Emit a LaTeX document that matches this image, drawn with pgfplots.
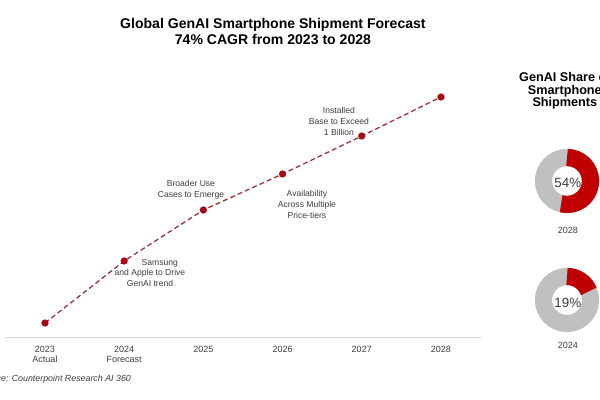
\documentclass[border=0pt]{standalone}
\usepackage{fontspec}
\setmainfont{Liberation Sans}
\usepackage{pgfplots}
\pgfplotsset{compat=1.18}

\definecolor{cpRed}{RGB}{192,0,0}
\definecolor{cpDot}{RGB}{165,10,20}
\definecolor{cpLine}{RGB}{150,50,50}
\definecolor{cpGray}{RGB}{192,192,192}
\definecolor{cpText}{RGB}{60,60,60}

% shipments (arbitrary units, axis hidden)
\pgfplotstableread{
year value
2023 15
2024 77
2025 128
2026 164
2027 202
2028 241
}\shipments

\begin{document}
\begin{tikzpicture}
\useasboundingbox (0,0) rectangle (15cm,10cm);
\clip (0,0) rectangle (15cm,10cm);

% main line chart
\begin{axis}[
  at={(0.135cm,1.55cm)}, anchor=south west,
  scale only axis, width=11.88cm, height=7.5cm,
  xmin=2022.5, xmax=2028.5, ymin=0, ymax=300,
  axis x line*=bottom, axis y line=none,
  x axis line style={black!15, line width=0.7pt},
  xtick={2023,...,2028},
  xticklabels={{2023\\Actual},{2024\\Forecast},2025,2026,2027,2028},
  major tick length=0pt,
  xticklabel style={align=center, text=cpText, font=\fontsize{6.4}{7.1}\selectfont, yshift=-2pt},
  ytick=\empty,
  clip=false,
]
\addplot[cpLine, line width=0.9pt, dash pattern=on 3.5pt off 2.2pt,
  mark=*, mark size=2.1pt, mark options={solid, fill=cpDot, draw=cpDot}]
  table[x=year, y=value] {\shipments};
\end{axis}

% donut panel, axis units are picture pixels
\begin{axis}[
  at={(0,0)}, anchor=south west,
  scale only axis, width=15cm, height=10cm,
  xmin=0, xmax=600, ymin=0, ymax=400,
  hide axis, clip=false,
]
\draw[cpGray, line width=0.43cm] (axis cs:567,219) circle[radius=0.5875cm];
\draw[cpRed, line width=0.43cm] (axis cs:567,219) ++(90:0.5875cm)
  arc[start angle=90, end angle={90-3.6*54}, radius=0.5875cm];
\draw[cpGray, line width=0.43cm] (axis cs:567,100) circle[radius=0.5875cm];
\draw[cpRed, line width=0.43cm] (axis cs:567,100) ++(90:0.5875cm)
  arc[start angle=90, end angle={90-3.6*19}, radius=0.5875cm];
\end{axis}

\begin{scope}[x=0.025cm,y=0.025cm]
% titles
\node[align=center, font=\fontsize{10}{11.4}\selectfont\bfseries] at (273,369)
  {Global GenAI Smartphone Shipment Forecast\\74\% CAGR from 2023 to 2028};
\node[align=center, font=\fontsize{9}{8.9}\selectfont\bfseries] at (565,309)
  {GenAI Share of\\Smartphone\\Shipments};

% donut labels
\node[text=cpText, font=\fontsize{9.5}{9.5}\selectfont] at (568,217) {54\%};
\node[text=cpText, font=\fontsize{6.4}{6.4}\selectfont] at (568,170) {2028};
\node[text=cpText, font=\fontsize{9.5}{9.5}\selectfont] at (568,97) {19\%};
\node[text=cpText, font=\fontsize{6.4}{6.4}\selectfont] at (568,55) {2024};

% annotations
\begin{scope}[every node/.style={align=center, text=cpText, font=\fontsize{6.1}{7.8}\selectfont}]
\node at (150,127) {\hspace*{14pt}Samsung\\and Apple to Drive\\GenAI trend};
\node at (191,210) {Broader Use\\Cases to Emerge};
\node at (307,196) {Availability\\Across Multiple\\Price-tiers};
\node at (339,279) {Installed\\Base to Exceed\\1 Billion};
\end{scope}

% source
\node[anchor=west, text=cpText, font=\fontsize{6.3}{6.3}\selectfont\itshape] at (-27,21)
  {Source: Counterpoint Research AI 360};
\end{scope}
\end{tikzpicture}
\end{document}
